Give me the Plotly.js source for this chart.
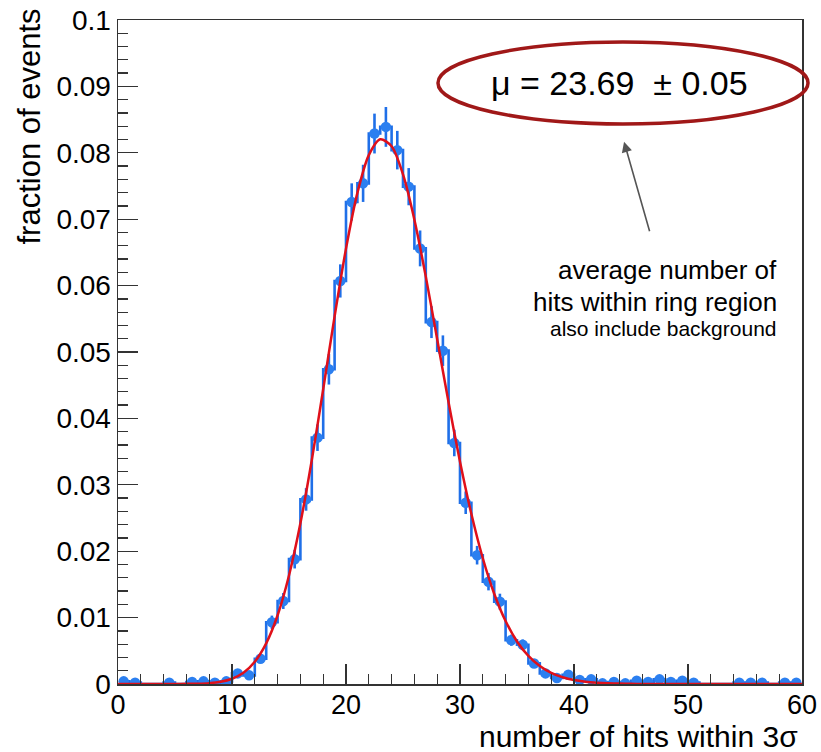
<!DOCTYPE html>
<html>
<head>
<meta charset="utf-8">
<script src="https://cdn.plot.ly/plotly-3.0.1.min.js"></script>
<style>
html,body{margin:0;padding:0;background:#fff;}
#chart{width:821px;height:752px;}
</style>
</head>
<body>
<div id="chart"></div>
<script>
// Histogram bin centres (number of hits) and fraction of events per bin
var binCenters = [0.5,1.5,2.5,3.5,4.5,5.5,6.5,7.5,8.5,9.5,
  10.5,11.5,12.5,13.5,14.5,15.5,16.5,17.5,18.5,19.5,
  20.5,21.5,22.5,23.5,24.5,25.5,26.5,27.5,28.5,29.5,
  30.5,31.5,32.5,33.5,34.5,35.5,36.5,37.5,38.5,39.5,
  40.5,41.5,42.5,43.5,44.5,45.5,46.5,47.5,48.5,49.5,
  50.5,51.5,52.5,53.5,54.5,55.5,56.5,57.5,58.5,59.5];
var fraction = [0.0004,0.0002,0,0,0.0002,0,0.0003,0.0004,0.0002,0.0004,
  0.0016,0.0013,0.0038,0.0093,0.0125,0.0188,0.0278,0.0371,0.0474,0.0607,
  0.0726,0.0754,0.0829,0.0839,0.0804,0.0749,0.0656,0.0545,0.0502,0.0363,
  0.0273,0.0194,0.0154,0.0124,0.0066,0.0059,0.0031,0.0016,0.0009,0.0014,
  0.0006,0.0007,0.0001,0.0003,0.0001,0.0005,0.0003,0.0007,0.0003,0.0005,
  0.0002,0,0,0,0.0002,0.0002,0.0002,0,0.0002,0.0002];
var fractionErr = [0.0002,0.00015,0,0,0.00015,0,0.00018,0.0002,0.00015,0.0002,
  0.0004,0.00037,0.00064,0.001,0.0012,0.0014,0.0017,0.002,0.0023,0.0025,
  0.0028,0.0028,0.003,0.003,0.0029,0.0028,0.0027,0.0024,0.0023,0.002,
  0.0017,0.0014,0.0013,0.0012,0.00084,0.0008,0.00058,0.0004,0.0003,0.0004,
  0.00025,0.00027,0.0001,0.00018,0.0001,0.00023,0.00018,0.00027,0.00018,0.00023,
  0.00015,0,0,0,0.00015,0.00015,0.00015,0,0.00015,0.00015];

// Fit curve read at integer hit counts 0..60
var fitValues = [0,0,0,0,0,0,0.00002,0.00005,0.00013,0.00033,
  0.00079,0.0017,0.00336,0.00612,0.01035,0.01635,0.02421,0.03374,0.0444,0.05536,
  0.06557,0.07397,0.07965,0.08204,0.08098,0.07674,0.06992,0.06135,0.05191,0.0424,
  0.03348,0.02559,0.01894,0.0136,0.00948,0.00641,0.00422,0.0027,0.00168,0.00102,
  0.0006,0.00035,0.0002,0.00011,0.00006,0.00003,0,0,0,0,
  0,0,0,0,0,0,0,0,0,0,0];

// Tick labels
var xTickVals = [0,10,20,30,40,50,60];
var xTickText = ["0","10","20","30","40","50","60"];
var yTickVals = [0,0.01,0.02,0.03,0.04,0.05,0.06,0.07,0.08,0.09,0.1];
var yTickText = ["0","0.01","0.02","0.03","0.04","0.05","0.06","0.07","0.08","0.09","0.1"];

var fitX = fitValues.map(function(_, i){ return i; });

var mx = [], my = [], me = [];
for (var i = 0; i < binCenters.length; i++) {
  if (fraction[i] > 0) { mx.push(binCenters[i]); my.push(fraction[i]); me.push(fractionErr[i]); }
}

var blueLine = '#1f6fe8';
var blueMarker = '#2b7ff0';

var traces = [
  {
    x: binCenters, y: fraction, type: 'scatter', mode: 'lines',
    line: {shape: 'hvh', color: blueLine, width: 2.6},
    hoverinfo: 'skip', showlegend: false
  },
  {
    x: mx, y: my, type: 'scatter', mode: 'markers',
    marker: {color: blueMarker, size: 10.5, symbol: 'circle'},
    error_y: {type: 'data', array: me, visible: true, color: blueLine, thickness: 2.6, width: 0},
    showlegend: false
  },
  {
    x: fitX, y: fitValues, type: 'scatter', mode: 'lines',
    line: {shape: 'spline', smoothing: 0.8, color: '#e0101a', width: 2.5},
    showlegend: false
  }
];

var font = 'Liberation Sans, Arial, Helvetica, sans-serif';

var layout = {
  width: 821, height: 752,
  margin: {l: 118, r: 19, t: 20, b: 68},
  paper_bgcolor: '#ffffff', plot_bgcolor: '#ffffff',
  font: {family: font, color: '#000000'},
  showlegend: false,
  xaxis: {
    range: [0, 60], tickmode: 'array', tickvals: xTickVals, ticktext: xTickText,
    ticks: 'inside', ticklen: 20, tickwidth: 1.3, tickcolor: '#333',
    minor: {dtick: 2, ticks: 'inside', ticklen: 10, tickwidth: 1.3, tickcolor: '#333'},
    showline: true, linecolor: '#333', linewidth: 1.5, mirror: true,
    showgrid: false, zeroline: false, ticklabelstandoff: -4,
    tickfont: {size: 27, family: font, color: '#000'}
  },
  yaxis: {
    range: [0, 0.1], tickmode: 'array', tickvals: yTickVals, ticktext: yTickText,
    ticks: 'inside', ticklen: 20, tickwidth: 1.3, tickcolor: '#333',
    minor: {dtick: 0.002, ticks: 'inside', ticklen: 10, tickwidth: 1.3, tickcolor: '#333'},
    showline: true, linecolor: '#333', linewidth: 1.5, mirror: true,
    showgrid: false, zeroline: false,
    tickfont: {size: 28, family: font, color: '#000'}
  },
  shapes: [
    {type: 'circle', xref: 'paper', yref: 'paper',
     x0: 0.4678, x1: 1.0088, y0: 0.8434, y1: 0.9669,
     line: {color: '#a01818', width: 3.5}}
  ],
  annotations: [
    {xref: 'paper', yref: 'paper', x: -0.1287, y: 0.8395, text: 'fraction of events',
     textangle: -90, showarrow: false, xanchor: 'center', yanchor: 'middle',
     font: {size: 31, family: font, color: '#000'}},
    {xref: 'paper', yref: 'paper', x: 0.997, y: -0.1065, text: 'number of hits within 3σ',
     showarrow: false, xanchor: 'right', yanchor: 'bottom',
     font: {size: 30, family: font, color: '#000'}},
    {xref: 'paper', yref: 'paper', x: 0.7339, y: 0.905, text: 'μ = 23.69 &nbsp;± 0.05',
     showarrow: false, xanchor: 'center', yanchor: 'middle',
     font: {size: 34, family: font, color: '#000'}},
    {xref: 'paper', yref: 'paper', x: 0.7398, y: 0.8167, text: '',
     showarrow: true, ax: 26, ay: 91, arrowhead: 2, arrowsize: 1.3, arrowwidth: 1.6,
     arrowcolor: '#555555'},
    {xref: 'paper', yref: 'paper', x: 0.9664, y: 0.6235, text: 'average number of',
     showarrow: false, xanchor: 'right', yanchor: 'middle',
     font: {size: 26, family: font, color: '#000'}},
    {xref: 'paper', yref: 'paper', x: 0.9664, y: 0.5753, text: 'hits within ring region',
     showarrow: false, xanchor: 'right', yanchor: 'middle',
     font: {size: 26, family: font, color: '#000'}},
    {xref: 'paper', yref: 'paper', x: 0.9664, y: 0.5361, text: 'also include background',
     showarrow: false, xanchor: 'right', yanchor: 'middle',
     font: {size: 21, family: font, color: '#000'}}
  ]
};

Plotly.newPlot('chart', traces, layout, {displayModeBar: false, staticPlot: true});
</script>
</body>
</html>
